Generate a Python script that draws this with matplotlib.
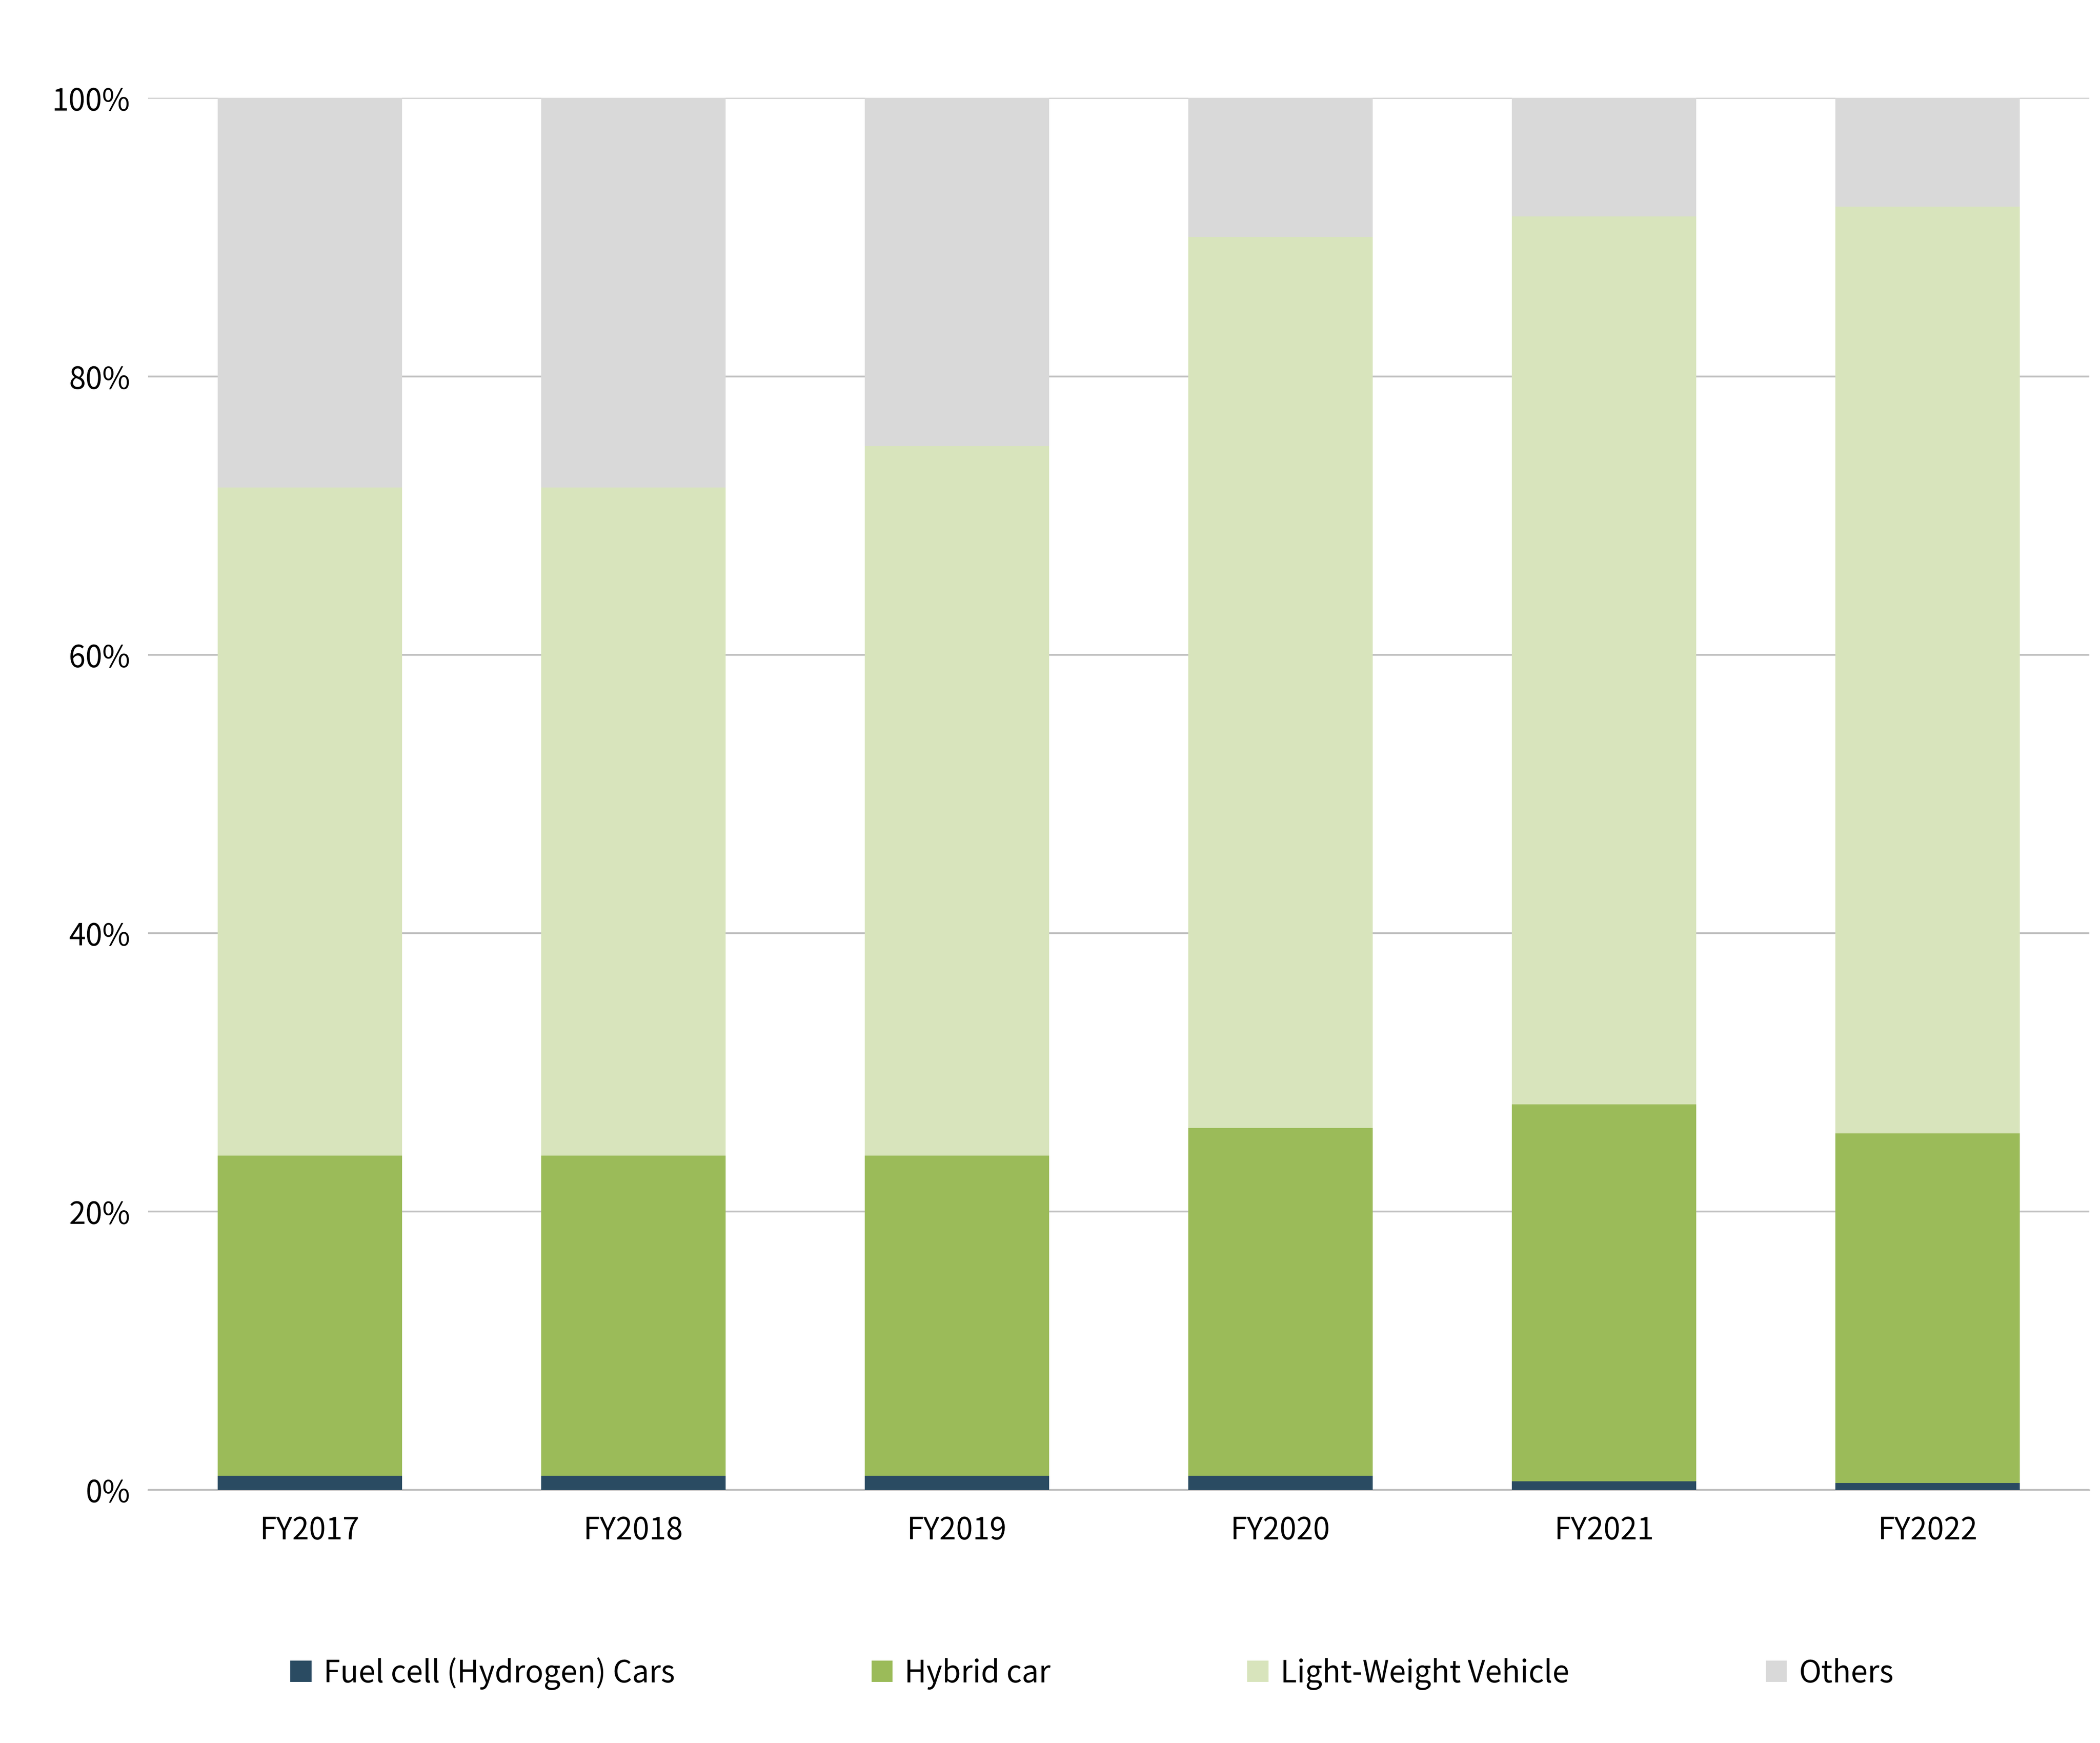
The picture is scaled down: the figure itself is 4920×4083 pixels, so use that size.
import numpy as np
import matplotlib.pyplot as plt
from matplotlib.ticker import PercentFormatter

plt.rcParams['font.family'] = 'Noto Sans CJK JP'

years = ["FY2017", "FY2018", "FY2019", "FY2020", "FY2021", "FY2022"]
fuel_cell = [1.0, 1.0, 1.0, 1.0, 0.6, 0.5]
hybrid = [23.0, 23.0, 23.0, 25.0, 27.1, 25.1]
light_weight = [48.0, 48.0, 51.0, 64.0, 63.8, 66.6]
others = [28.0, 28.0, 25.0, 10.0, 8.5, 7.8]

series = [
    ("Fuel cell (Hydrogen) Cars", fuel_cell, "#2a4b62"),
    ("Hybrid car", hybrid, "#9bbb59"),
    ("Light-Weight Vehicle", light_weight, "#d8e4bc"),
    ("Others", others, "#d9d9d9"),
]

fig = plt.figure(figsize=(16.4, 13.613), dpi=300)
ax = fig.add_axes([0.0705, 0.1452, 0.9245, 0.7984])

x = np.arange(len(years))
bottom = np.zeros(len(years))
for label, vals, color in series:
    ax.bar(x, vals, bottom=bottom, width=0.57, color=color, label=label, zorder=3)
    bottom += np.array(vals)

ax.set_ylim(0, 100)
ax.set_xlim(-0.5, len(years) - 0.5)
ax.set_yticks(range(0, 101, 20))
ax.yaxis.set_major_formatter(PercentFormatter(decimals=0))
ax.set_xticks(x)
ax.set_xticklabels(years)
ax.grid(axis='y', color='#c0c0c0', linewidth=1.0, zorder=0)
for s in ['top', 'right', 'left']:
    ax.spines[s].set_visible(False)
ax.spines['bottom'].set_color('#c0c0c0')
ax.tick_params(axis='both', length=0, labelsize=17, colors='#000000')
ax.tick_params(axis='x', pad=14)
ax.tick_params(axis='y', pad=10)

fig.legend(loc='center', bbox_to_anchor=(0.52, 0.04), ncol=4, frameon=False,
           fontsize=17, handlelength=0.7, handleheight=0.7, columnspacing=6.5,
           handletextpad=0.4)

fig.savefig("out.png", dpi=300)
